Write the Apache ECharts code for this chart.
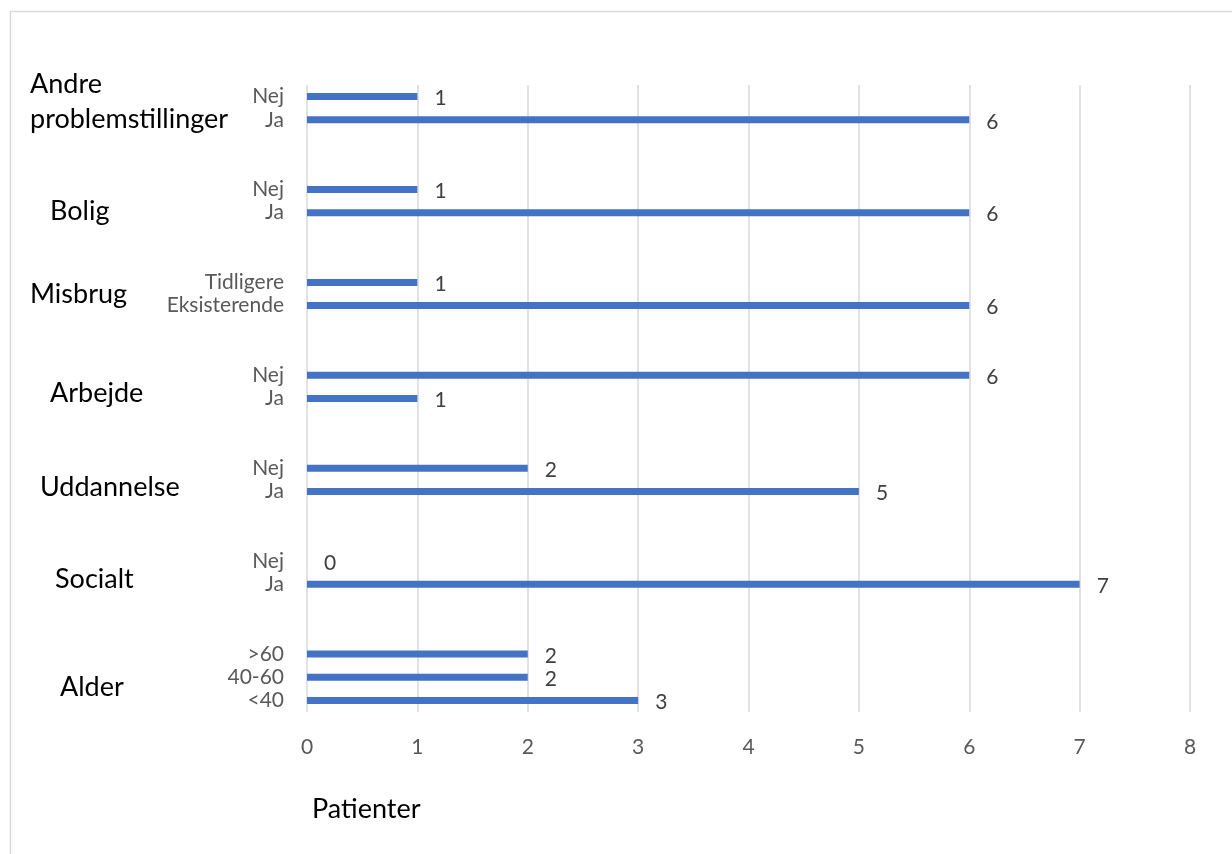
<!DOCTYPE html>
<html>
<head>
<meta charset="utf-8">
<script src="https://cdn.jsdelivr.net/npm/echarts@6/dist/echarts.min.js"></script>
<style>
html,body{margin:0;padding:0;background:#fff;}
#c{width:1232px;height:854px;}
</style>
</head>
<body>
<div id="c"></div>
<script>
// ---- data ----
const groups = ['Alder', 'Socialt', 'Uddannelse', 'Arbejde', 'Misbrug', 'Bolig', 'Andre\nproblemstillinger'];
const subLabels = [
  ['<40', '40-60', '>60'],
  ['Ja', 'Nej'],
  ['Ja', 'Nej'],
  ['Ja', 'Nej'],
  ['Eksisterende', 'Tidligere'],
  ['Ja', 'Nej'],
  ['Ja', 'Nej']
];
const values = [
  [3, 2, 2],
  [7, 0],
  [5, 2],
  [1, 6],
  [6, 1],
  [6, 1],
  [6, 1]
];
const xTicks = [0, 1, 2, 3, 4, 5, 6, 7, 8];
const xTitle = 'Patienter';

// ---- layout / style ----
const FONT = 'Lato, "Open Sans", sans-serif';
const GAP_SLOTS = 2;
const groupLabelX = [60, 55, 40, 50, 30, 50, 30];
const groupLabelDy = [10, 7, 8, 6, 0, 10, -6];

// build slots
const cats = [];
const data = [];
const groupRange = [];
groups.forEach((g, gi) => {
  const start = cats.length;
  subLabels[gi].forEach((s, si) => {
    cats.push(gi + '|' + s);
    data.push(values[gi][si]);
  });
  groupRange.push([start, cats.length - 1]);
  if (gi < groups.length - 1) {
    for (let k = 0; k < GAP_SLOTS; k++) {
      cats.push('gap' + gi + '_' + k);
      data.push(null);
    }
  }
});

const chart = echarts.init(document.getElementById('c'));
const option = {
  animation: false,
  backgroundColor: '#fff',
  textStyle: { fontFamily: FONT },
  grid: { left: 307, right: 42, top: 85, bottom: 142, containLabel: false },
  xAxis: {
    type: 'value',
    min: xTicks[0],
    max: xTicks[xTicks.length - 1],
    interval: 1,
    axisLine: { show: false },
    axisTick: { show: false },
    splitLine: { show: true, lineStyle: { color: '#d9d9d9', width: 1.5 } },
    axisLabel: { color: '#595959', fontSize: 21, margin: 25, fontFamily: FONT }
  },
  yAxis: {
    type: 'category',
    data: cats,
    axisLine: { show: false },
    axisTick: { show: false },
    splitLine: { show: false },
    axisLabel: {
      interval: 0,
      color: '#595959',
      fontSize: 21,
      margin: 23,
      fontFamily: FONT,
      formatter: v => v.indexOf('|') >= 0 ? v.split('|')[1] : ''
    }
  },
  title: {
    text: xTitle,
    left: 307,
    top: 791,
    textStyle: { fontSize: 27, fontWeight: 'normal', color: '#000', fontFamily: FONT }
  },
  series: [{
    type: 'bar',
    data: data,
    barWidth: 7,
    itemStyle: { color: '#4472C4' },
    label: {
      show: true,
      position: 'right',
      distance: 17,
      offset: [0, 2],
      color: '#404040',
      fontSize: 21,
      fontFamily: FONT,
      formatter: p => (p.value === null || p.value === undefined) ? '' : String(p.value)
    }
  }]
};
chart.setOption(option);

const graphics = [{
  type: 'rect',
  shape: { x: 10.5, y: 11.5, width: 1400, height: 1000 },
  style: { fill: null, stroke: '#d9d9d9', lineWidth: 1.5 },
  silent: true
}];
groups.forEach((g, gi) => {
  const y0 = chart.convertToPixel({ yAxisIndex: 0 }, cats[groupRange[gi][0]]);
  const y1 = chart.convertToPixel({ yAxisIndex: 0 }, cats[groupRange[gi][1]]);
  const y = (y0 + y1) / 2;
  graphics.push({
    type: 'text',
    x: groupLabelX[gi],
    y: y + groupLabelDy[gi],
    style: {
      text: g,
      fill: '#000',
      font: '27px ' + FONT,
      textAlign: 'left',
      textVerticalAlign: 'middle',
      lineHeight: 35
    }
  });
});
chart.setOption({ graphic: graphics });
</script>
</body>
</html>
